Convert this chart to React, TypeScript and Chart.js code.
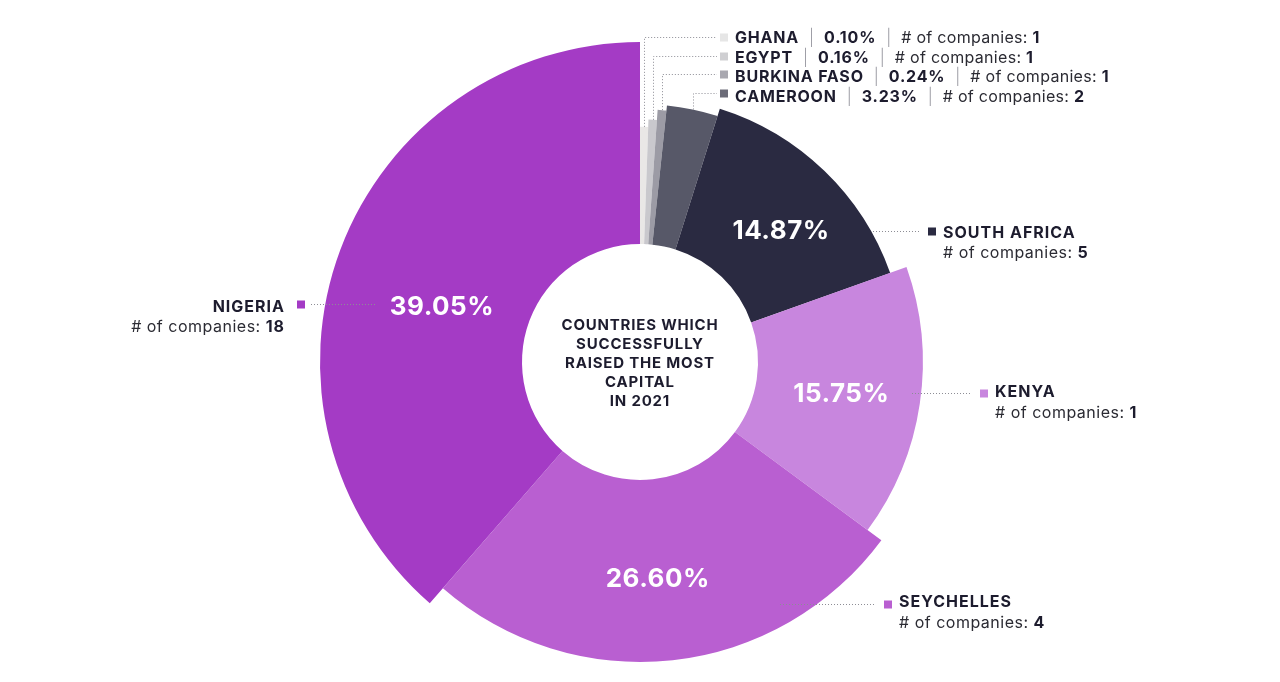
import React, { useEffect, useRef } from "react";
import { Chart, registerables } from "chart.js";

Chart.register(...registerables);

// ---------- data ----------
const countries = ["GHANA", "EGYPT", "BURKINA FASO", "CAMEROON", "SOUTH AFRICA", "KENYA", "SEYCHELLES", "NIGERIA"];
const capitalShare = [0.1, 0.16, 0.24, 3.23, 14.87, 15.75, 26.6, 39.05];
const companyCounts = [1, 1, 1, 2, 5, 1, 4, 18];
const centerTitle = ["COUNTRIES WHICH", "SUCCESSFULLY", "RAISED THE MOST", "CAPITAL", "IN 2021"];

// ---------- styles ----------
const sliceColors = ["#e9e7e6", "#c9c8cd", "#9c9ba5", "#575868", "#2a2a41", "#c886de", "#b95fd1", "#a43bc5"];
const squareColors = ["#e6e6e6", "#cfcfd2", "#a9a8b0", "#6c6c78", "#2a2a41", "#c886de", "#b95fd1", "#a43bc5"];
const radiusScale = [0.735, 0.758, 0.79, 0.806, 0.83, 0.884, 0.9375, 1.0];
const MIN_SLICE_DEG = 2;
const labelNudge: [number, number][] = [[0, 0], [0, 0], [0, 0], [0, 0], [8, 6], [3, 1], [-5, 8], [7, 20]];
const FONT = "Inter, 'Noto Sans', sans-serif";
const DARK = "#1d1c2e";
const BOLD_SPACING = "1px";
const REG_SPACING = "0.5px";

const topRows = { baseline: [43, 62.5, 82, 101.5], lineY: [36.5, 55.5, 74, 93], squareX: 720, textX: 735, lineEndX: 717, gap: 10 };
const sideCallouts: Record<number, { align: "left" | "right"; x1: number; x2: number; y: number; sqX: number; textX: number; b1: number; b2: number }> = {
  4: { align: "left", x1: 873, x2: 920, y: 231, sqX: 928, textX: 943, b1: 238, b2: 258 },
  5: { align: "left", x1: 912, x2: 972, y: 393, sqX: 980, textX: 995, b1: 397, b2: 418 },
  6: { align: "left", x1: 780, x2: 875, y: 604, sqX: 884, textX: 899, b1: 607, b2: 628 },
  7: { align: "right", x1: 375, x2: 310, y: 304, sqX: 297, textX: 285, b1: 312, b2: 332 },
};

const shapePlugin = {
  id: "shapeSlices",
  afterDatasetsUpdate(chart: any) {
    const meta = chart.getDatasetMeta(0);
    const arcs = meta.data;
    const total = capitalShare.reduce((a, b) => a + b, 0);
    const minFrac = MIN_SLICE_DEG / 360;
    let fr = capitalShare.map((v) => v / total);
    const small = fr.map((f) => f < minFrac);
    const nSmall = small.filter(Boolean).length;
    const rest = fr.reduce((s, f, i) => (small[i] ? s : s + f), 0);
    const k = (1 - nSmall * minFrac) / rest;
    fr = fr.map((f, i) => (small[i] ? minFrac : f * k));
    let a = -Math.PI / 2;
    arcs.forEach((arc: any, i: number) => {
      const c = fr[i] * Math.PI * 2;
      const maxR = arc.$maxR ?? arc.outerRadius;
      arc.$maxR = maxR;
      arc.startAngle = a;
      arc.endAngle = a + c;
      arc.circumference = c;
      arc.outerRadius = maxR * radiusScale[i];
      a += c;
    });
  },
  afterDraw(chart: any) {
    const ctx: CanvasRenderingContext2D = chart.ctx;
    const arcs = chart.getDatasetMeta(0).data;
    const cx = arcs[0].x;
    const cy = arcs[0].y;
    const spacing = (v: string) => {
      (ctx as any).letterSpacing = v;
    };
    ctx.save();

    // center title
    ctx.fillStyle = DARK;
    ctx.textAlign = "center";
    ctx.textBaseline = "alphabetic";
    ctx.font = `700 15px ${FONT}`;
    spacing("0.8px");
    centerTitle.forEach((t, i) => {
      ctx.fillText(t, cx, cy + 6 + (i - 2) * 19.2);
    });

    // percentage labels inside big slices
    ctx.font = `700 26px ${FONT}`;
    spacing("0.5px");
    ctx.fillStyle = "#ffffff";
    arcs.forEach((arc: any, i: number) => {
      if (arc.endAngle - arc.startAngle < Math.PI / 6) return;
      const mid = (arc.startAngle + arc.endAngle) / 2;
      const r = (arc.innerRadius + arc.outerRadius) / 2;
      const x = cx + Math.cos(mid) * r + labelNudge[i][0];
      const y = cy + Math.sin(mid) * r + labelNudge[i][1];
      ctx.fillText(capitalShare[i].toFixed(2) + "%", x, y + 9.5);
    });
    spacing("0px");

    const dotted = () => {
      ctx.strokeStyle = "#8d8d95";
      ctx.lineWidth = 1;
      ctx.setLineDash([1, 2]);
    };

    // top callouts for the small slices
    arcs.forEach((arc: any, i: number) => {
      if (i > 3) return;
      const mid = (arc.startAngle + arc.endAngle) / 2;
      const vx = Math.round(cx + Math.cos(mid) * arc.outerRadius) + 0.5;
      const vy = cy + Math.sin(mid) * arc.outerRadius;
      const ly = Math.round(topRows.lineY[i]) + 0.5;
      dotted();
      ctx.beginPath();
      ctx.moveTo(vx, vy);
      ctx.lineTo(vx, ly);
      ctx.lineTo(topRows.lineEndX, ly);
      ctx.stroke();
      ctx.setLineDash([]);
      ctx.fillStyle = squareColors[i];
      ctx.fillRect(topRows.squareX, ly - 4, 8, 8);

      let x = topRows.textX;
      const b = topRows.baseline[i];
      const g = topRows.gap;
      ctx.textAlign = "left";
      const seg = (text: string, weight: number, color: string, gap: number, sp: string) => {
        spacing(sp);
        ctx.font = `${weight} 16px ${FONT}`;
        ctx.fillStyle = color;
        ctx.fillText(text, x, b);
        x += ctx.measureText(text).width + gap;
      };
      seg(countries[i], 700, DARK, g, "0.8px");
      seg("|", 300, "#9a9aa2", g, "0px");
      seg(capitalShare[i].toFixed(2) + "%", 700, DARK, g, "0.8px");
      seg("|", 300, "#9a9aa2", g, "0px");
      seg("# of companies: ", 400, "#2b2b33", 0, "0.3px");
      seg(String(companyCounts[i]), 700, DARK, 0, "0px");
      spacing("0px");
    });

    // side callouts for the big slices
    Object.keys(sideCallouts).forEach((key) => {
      const i = Number(key);
      const c = sideCallouts[i];
      dotted();
      ctx.beginPath();
      ctx.moveTo(c.x1, c.y + 0.5);
      ctx.lineTo(c.x2, c.y + 0.5);
      ctx.stroke();
      ctx.setLineDash([]);
      ctx.fillStyle = squareColors[i];
      ctx.fillRect(c.sqX, c.y - 3.5, 8, 8);

      spacing(BOLD_SPACING);
      ctx.font = `700 16px ${FONT}`;
      const nameW = ctx.measureText(countries[i]).width;
      ctx.textAlign = "left";
      ctx.fillStyle = DARK;
      ctx.fillText(countries[i], c.align === "right" ? c.textX - nameW : c.textX, c.b1);

      const lead = "# of companies: ";
      const num = String(companyCounts[i]);
      const numW = ctx.measureText(num).width;
      spacing(REG_SPACING);
      ctx.font = `400 16px ${FONT}`;
      const leadW = ctx.measureText(lead).width;
      const start = c.align === "right" ? c.textX - leadW - numW : c.textX;
      ctx.fillStyle = "#2b2b33";
      ctx.fillText(lead, start, c.b2);
      spacing(BOLD_SPACING);
      ctx.font = `700 16px ${FONT}`;
      ctx.fillStyle = DARK;
      ctx.fillText(num, start + leadW, c.b2);
      spacing("0px");
    });

    ctx.restore();
  },
};

export default function App() {
  const ref = useRef<HTMLCanvasElement>(null);
  useEffect(() => {
    if (!ref.current) return;
    const chart = new Chart(ref.current, {
      type: "doughnut",
      data: {
        labels: countries,
        datasets: [
          {
            data: capitalShare,
            backgroundColor: sliceColors,
            borderWidth: 0,
          },
        ],
      },
      options: {
        responsive: false,
        animation: false,
        events: [],
        cutout: 118,
        radius: 320,
        layout: { padding: { top: 42, bottom: 0, left: 0, right: 0 } },
        plugins: { legend: { display: false }, tooltip: { enabled: false } },
      },
      plugins: [shapePlugin],
    });
    return () => chart.destroy();
  }, []);
  return (
    <div style={{ position: "fixed", left: 0, top: 0, width: 1280, height: 682, background: "#ffffff" }}>
      <canvas ref={ref} width={1280} height={682} style={{ width: 1280, height: 682, display: "block" }} />
    </div>
  );
}
